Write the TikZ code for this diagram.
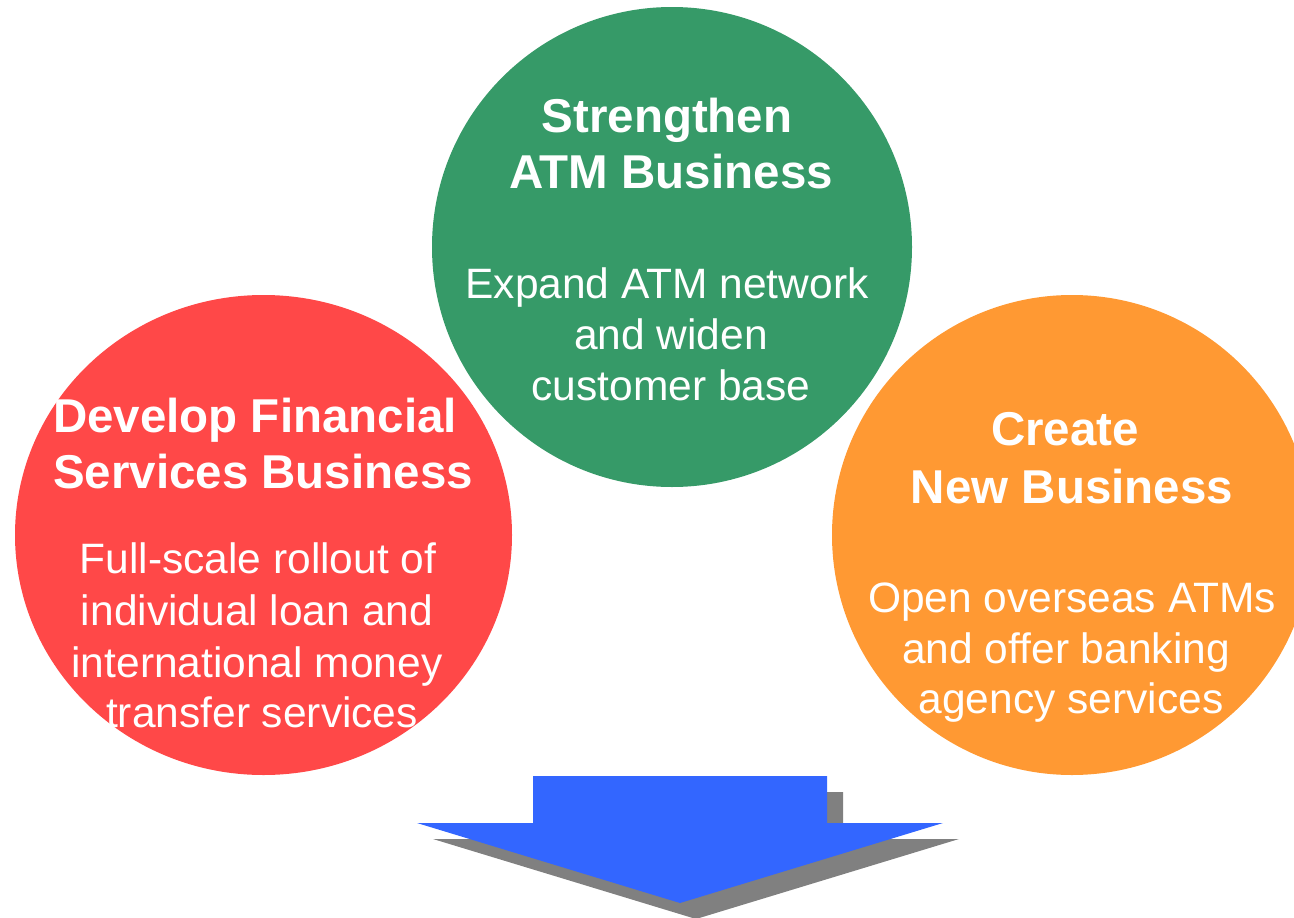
\documentclass[tikz,border=0pt]{standalone}
\usepackage{fontspec}
\setmainfont{Liberation Sans}
\usetikzlibrary{shapes.geometric}

\definecolor{atmgreen}{HTML}{369A68}
\definecolor{finred}{HTML}{FF4848}
\definecolor{neworange}{HTML}{FF9933}
\definecolor{arrowblue}{HTML}{3366FF}
\definecolor{shadowgray}{HTML}{808080}

\tikzset{
  disc/.style={circle, inner sep=0pt, minimum size=480pt, draw=none},
  headline/.style={anchor=base, text=white, inner sep=0pt,
    font=\fontsize{47.5}{57}\selectfont\bfseries},
  bodyline/.style={anchor=base, text=white, inner sep=0pt,
    font=\fontsize{42.5}{51}\selectfont},
  drop/.style={shift={(16,16)}},
}

\begin{document}
\begin{tikzpicture}[x=1pt, y=-1pt]
  \clip (0,0) rectangle (1294,918);
  \useasboundingbox (0,0) rectangle (1294,918);

  % the three business pillars
  \node[disc, fill=atmgreen] (atm) at (672,247) {};
  \node[ellipse, inner sep=0pt, minimum width=497pt, minimum height=480pt,
        fill=finred] (fin) at (263.5,535) {};
  \node[disc, fill=neworange] (new) at (1072,535) {};

  % downward arrow with its drop shadow
  \coordinate (a1) at (533,776);
  \coordinate (a2) at (827,776);
  \coordinate (a3) at (827,823);
  \coordinate (a4) at (943,823);
  \coordinate (tip) at (680,903);
  \coordinate (a6) at (417,823);
  \coordinate (a7) at (533,823);
  \fill[shadowgray]
    ([drop]a1) -- ([drop]a2) -- ([drop]a3) -- ([drop]a4) -- ([drop]tip)
    -- ([drop]a6) -- ([drop]a7) -- cycle;
  \fill[arrowblue]
    (a1) -- (a2) -- (a3) -- (a4) -- (tip) -- (a6) -- (a7) -- cycle;

  % Strengthen ATM Business
  \node[headline] (atmh1) at (667,132) {Strengthen};
  \node[headline] (atmh2) at (671,188) {ATM Business};
  \node[bodyline] (atmb1) at (667,298) {Expand ATM network};
  \node[bodyline] (atmb2) at (671,349) {and widen};
  \node[bodyline] (atmb3) at (671,400) {customer base};

  % Develop Financial Services Business
  \node[headline] (finh1) at (255,432) {Develop Financial};
  \node[headline] (finh2) at (263,488) {Services Business};
  \node[bodyline] (finb1) at (258,573) {Full-scale rollout of};
  \node[bodyline] (finb2) at (257,625) {individual loan and};
  \node[bodyline] (finb3) at (257,677) {international money};
  \node[bodyline] (finb4) at (262,727) {transfer services};

  % Create New Business
  \node[headline] (newh1) at (1065,445) {Create};
  \node[headline] (newh2) at (1072,503) {New Business};
  \node[bodyline] (newb1) at (1072,612) {Open overseas ATMs};
  \node[bodyline] (newb2) at (1066,663) {and offer banking};
  \node[bodyline] (newb3) at (1071,713) {agency services};
\end{tikzpicture}
\end{document}
